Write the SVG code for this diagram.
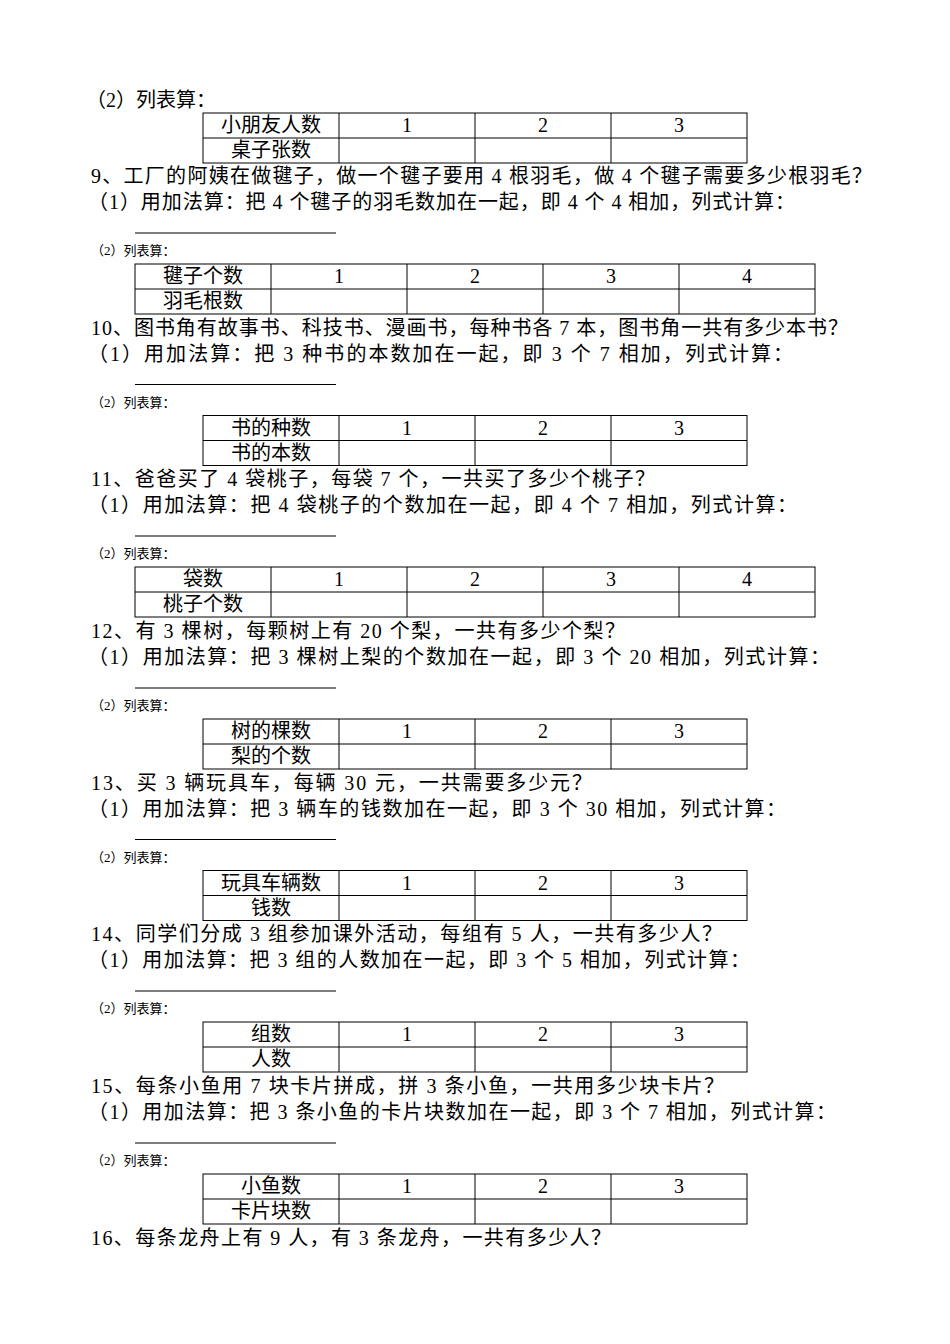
<svg xmlns="http://www.w3.org/2000/svg" width="950" height="1344" viewBox="0 0 950 1344">
<style>
text{font-family:"Liberation Serif","Noto Sans CJK SC",serif;font-size:20px;fill:#000}
.s{font-size:13px}
.c{text-anchor:middle}
.t{fill:none;stroke:#000;stroke-width:1}
.u{stroke:#000;stroke-width:1.2}
</style>
<defs>
<g id="t3"><rect class="t" x="203" y="0" width="544" height="50"/><path class="t" d="M203 25H747M339 0V50M475 0V50M611 0V50"/><text class="c" x="407" y="19">1</text><text class="c" x="543" y="19">2</text><text class="c" x="679" y="19">3</text></g>
<g id="t4"><rect class="t" x="135" y="0" width="680" height="50"/><path class="t" d="M135 25H815M271 0V50M407 0V50M543 0V50M679 0V50"/><text class="c" x="339" y="19">1</text><text class="c" x="475" y="19">2</text><text class="c" x="611" y="19">3</text><text class="c" x="747" y="19">4</text></g>
<g id="hd"><line class="u" x1="135" y1="233" x2="336" y2="233"/><text class="s" x="91" y="255">（2）列表算：</text></g>
</defs>
<g id="top">
<text x="86" y="107">（2）列表算：</text>
<use href="#t3" y="113"/><text class="c" x="271" y="132">小朋友人数</text><text class="c" x="271" y="157">桌子张数</text>
</g>
<g id="q9">
<text x="91" y="183" textLength="781">9、工厂的阿姨在做毽子，做一个毽子要用 4 根羽毛，做 4 个毽子需要多少根羽毛？</text>
<text x="88" y="209" textLength="707">（1）用加法算：把 4 个毽子的羽毛数加在一起，即 4 个 4 相加，列式计算：</text>
<use href="#hd"/><use href="#t4" y="264"/><text class="c" x="203" y="283">毽子个数</text><text class="c" x="203" y="308">羽毛根数</text>
</g>
<g id="q10" transform="translate(0,151.5)">
<text x="91" y="183" textLength="757">10、图书角有故事书、科技书、漫画书，每种书各 7 本，图书角一共有多少本书？</text>
<text x="88" y="209" textLength="705">（1）用加法算：把 3 种书的本数加在一起，即 3 个 7 相加，列式计算：</text>
<use href="#hd"/><use href="#t3" y="264"/><text class="c" x="271" y="283">书的种数</text><text class="c" x="271" y="308">书的本数</text>
</g>
<g id="q11" transform="translate(0,303)">
<text x="91" y="183" textLength="564">11、爸爸买了 4 袋桃子，每袋 7 个，一共买了多少个桃子？</text>
<text x="88" y="209" textLength="709">（1）用加法算：把 4 袋桃子的个数加在一起，即 4 个 7 相加，列式计算：</text>
<use href="#hd"/><use href="#t4" y="264"/><text class="c" x="203" y="283">袋数</text><text class="c" x="203" y="308">桃子个数</text>
</g>
<g id="q12" transform="translate(0,455)">
<text x="91" y="183" textLength="534">12、有 3 棵树，每颗树上有 20 个梨，一共有多少个梨？</text>
<text x="88" y="209" textLength="742">（1）用加法算：把 3 棵树上梨的个数加在一起，即 3 个 20 相加，列式计算：</text>
<use href="#hd"/><use href="#t3" y="264"/><text class="c" x="271" y="283">树的棵数</text><text class="c" x="271" y="308">梨的个数</text>
</g>
<g id="q13" transform="translate(0,606.5)">
<text x="91" y="183" textLength="501">13、买 3 辆玩具车，每辆 30 元，一共需要多少元？</text>
<text x="88" y="209" textLength="698">（1）用加法算：把 3 辆车的钱数加在一起，即 3 个 30 相加，列式计算：</text>
<use href="#hd"/><use href="#t3" y="264"/><text class="c" x="271" y="283">玩具车辆数</text><text class="c" x="271" y="308">钱数</text>
</g>
<g id="q14" transform="translate(0,758)">
<text x="91" y="183" textLength="631">14、同学们分成 3 组参加课外活动，每组有 5 人，一共有多少人？</text>
<text x="88" y="209" textLength="662">（1）用加法算：把 3 组的人数加在一起，即 3 个 5 相加，列式计算：</text>
<use href="#hd"/><use href="#t3" y="264"/><text class="c" x="271" y="283">组数</text><text class="c" x="271" y="308">人数</text>
</g>
<g id="q15" transform="translate(0,910)">
<text x="91" y="183" textLength="633">15、每条小鱼用 7 块卡片拼成，拼 3 条小鱼，一共用多少块卡片？</text>
<text x="88" y="209" textLength="748">（1）用加法算：把 3 条小鱼的卡片块数加在一起，即 3 个 7 相加，列式计算：</text>
<use href="#hd"/><use href="#t3" y="264"/><text class="c" x="271" y="283">小鱼数</text><text class="c" x="271" y="308">卡片块数</text>
</g>
<g id="q16">
<text x="91" y="1245" textLength="520">16、每条龙舟上有 9 人，有 3 条龙舟，一共有多少人？</text>
</g>
</svg>
